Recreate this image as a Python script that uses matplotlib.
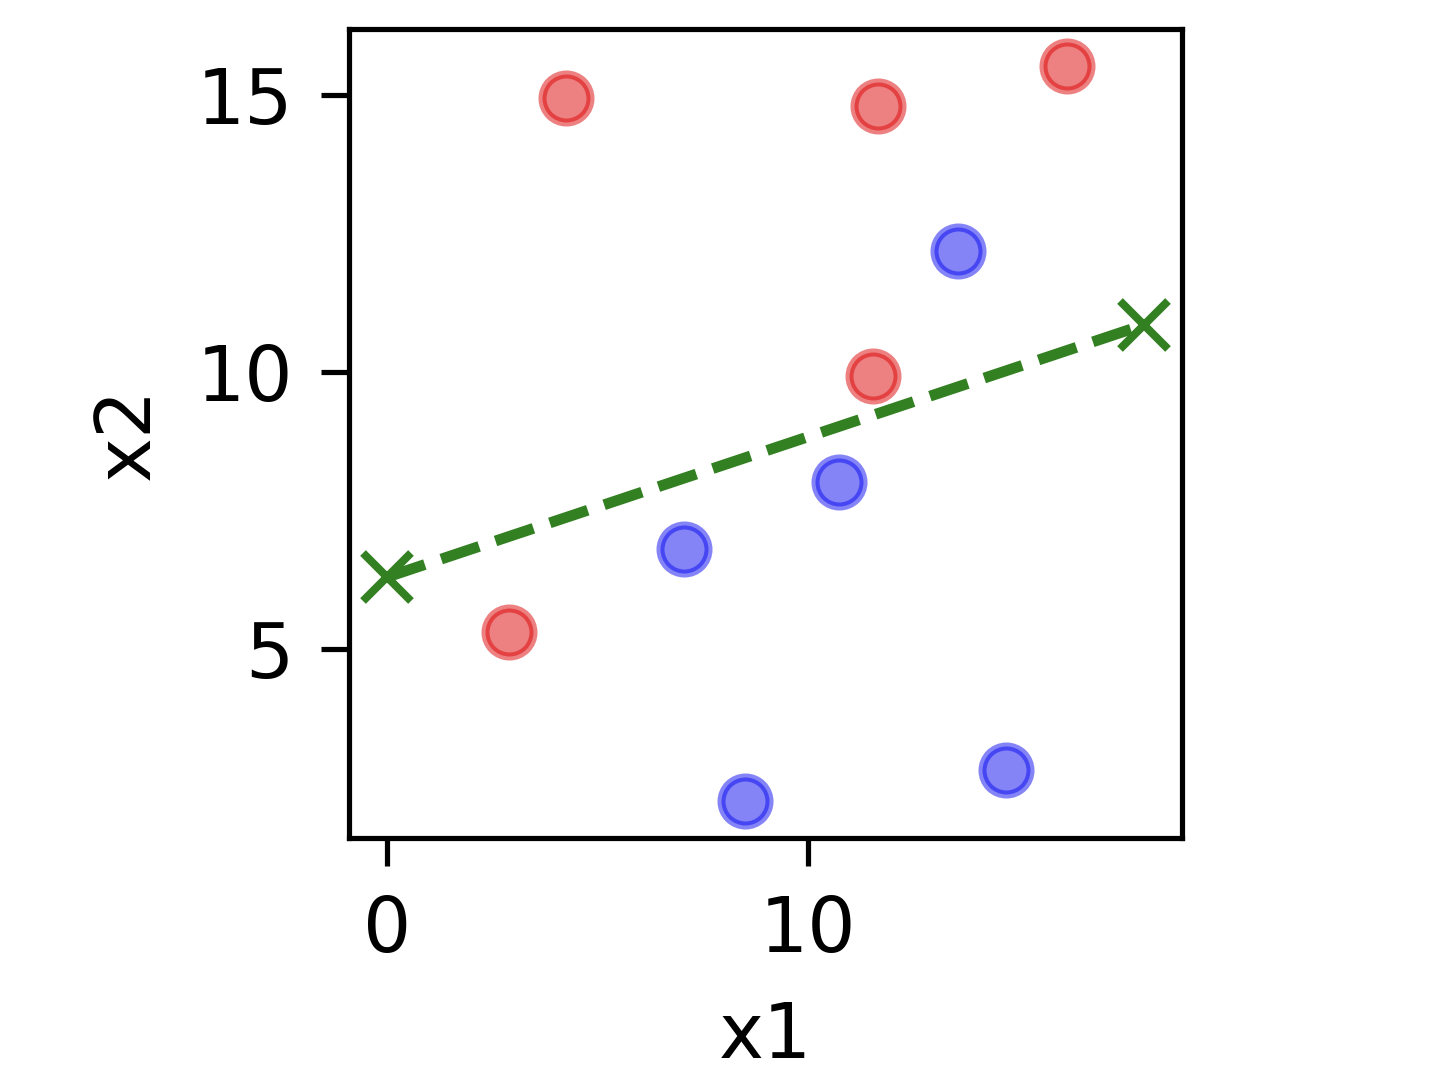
import matplotlib
matplotlib.use("Agg")
import matplotlib.pyplot as plt

# class A (red) and class B (blue) points
red_x = [4.25, 11.66, 16.15, 11.54, 2.90]
red_y = [14.93, 14.80, 15.52, 9.93, 5.31]
blue_x = [13.56, 10.74, 7.05, 8.50, 14.70]
blue_y = [12.18, 8.01, 6.80, 2.26, 2.83]

# separating line endpoints
line_x = [0.0, 17.98]
line_y = [6.30, 10.85]

plt.rcParams["font.size"] = 9.5
plt.rcParams["axes.linewidth"] = 0.65
plt.rcParams["xtick.major.width"] = 0.65
plt.rcParams["ytick.major.width"] = 0.65

dpi = 576
fig = plt.figure(figsize=(1440 / dpi, 1085 / dpi), dpi=dpi)
ax = fig.add_axes([0.2424, 0.2276, 0.5784, 0.7457])

ax.scatter(red_x, red_y, color="#dc0505", alpha=0.5, s=36)
ax.scatter(blue_x, blue_y, color="#0a0af0", alpha=0.5, s=36)
ax.plot(line_x, line_y, "--x", color="#338022", lw=1.35, markersize=6)

ax.set_xticks([0, 10])
ax.set_yticks([5, 10, 15])
ax.set_xlabel("x1")
ax.set_ylabel("x2")

fig.savefig("out.png", dpi=dpi)
